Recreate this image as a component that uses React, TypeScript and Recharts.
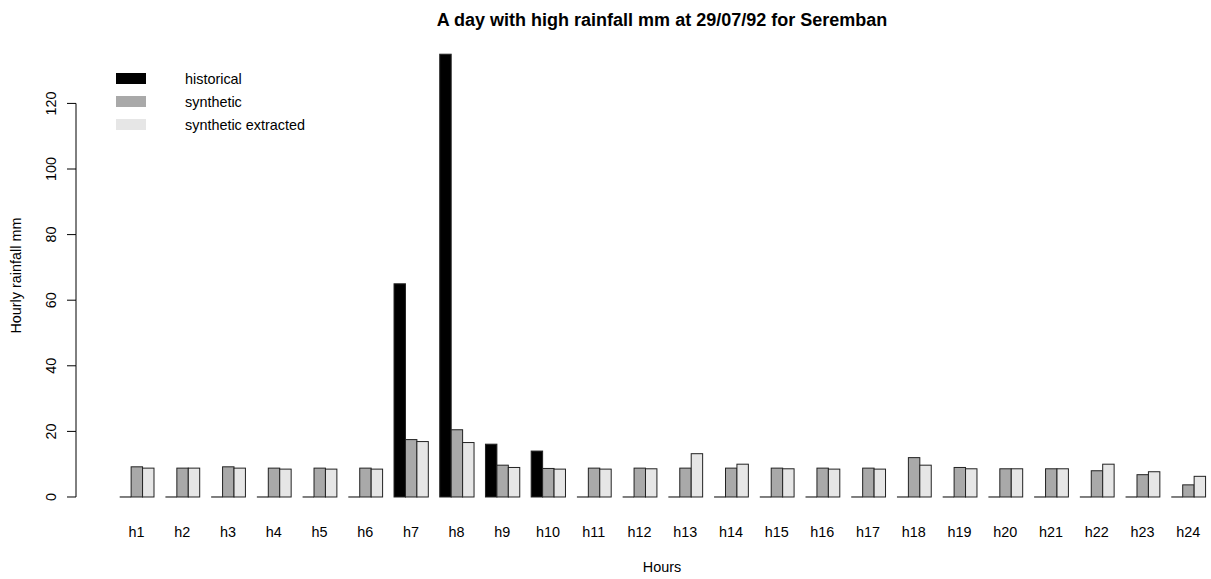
import React from "react";
import { BarChart, Bar, XAxis, YAxis, Legend } from "recharts";

const hours = [
  "h1", "h2", "h3", "h4", "h5", "h6", "h7", "h8", "h9", "h10", "h11", "h12",
  "h13", "h14", "h15", "h16", "h17", "h18", "h19", "h20", "h21", "h22", "h23", "h24",
];
const historical = [0, 0, 0, 0, 0, 0, 65, 135, 16.1, 14, 0, 0, 0, 0, 0, 0, 0, 0, 0, 0, 0, 0, 0, 0];
const synthetic = [
  9.2, 8.8, 9.2, 8.8, 8.8, 8.8, 17.5, 20.5, 9.7, 8.7, 8.8, 8.8,
  8.8, 8.8, 8.8, 8.8, 8.8, 12.0, 9.0, 8.6, 8.6, 8.0, 6.8, 3.7,
];
const extracted = [
  8.8, 8.8, 8.8, 8.5, 8.5, 8.5, 16.9, 16.6, 9.0, 8.5, 8.5, 8.6,
  13.2, 10.0, 8.6, 8.5, 8.5, 9.7, 8.6, 8.6, 8.6, 10.0, 7.7, 6.3,
];
const yTicks = [0, 20, 40, 60, 80, 100, 120];

const data = hours.map((h, i) => ({
  hour: h,
  historical: historical[i],
  synthetic: synthetic[i],
  extracted: extracted[i],
}));

// layout (R barplot look)
const FONT = "'Liberation Sans', Arial, sans-serif";
const CHART_W = 1250;
const CHART_H = 579;
const PLOT_TOP = 36.5;
const PLOT_BOTTOM = 514.7;
const AXIS_X = 76;
const Y_MIN = -5.4;
const Y_MAX = 140.4;
const TICK_STEP_PX = (20 * (PLOT_BOTTOM - PLOT_TOP)) / (Y_MAX - Y_MIN);

const BarShape = (props: any) => {
  const { x, y, width, height, fill } = props;
  if (!height || Math.abs(height) < 0.5) {
    return <line x1={x} x2={x + width} y1={y} y2={y} stroke="#000" strokeWidth={1} />;
  }
  return <rect x={x} y={y} width={width} height={height} fill={fill} stroke="#222" strokeWidth={1} />;
};

const YTick = (props: any) => {
  const { y, payload } = props;
  const last = payload.value === yTicks[yTicks.length - 1];
  return (
    <g>
      <line x1={AXIS_X - 9} x2={AXIS_X} y1={y} y2={y} stroke="#000" />
      {!last && <line x1={AXIS_X} x2={AXIS_X} y1={y} y2={y - TICK_STEP_PX} stroke="#000" />}
      <text
        x={56.5}
        y={y}
        transform={`rotate(-90 56.5 ${y})`}
        textAnchor="middle"
        fontSize={14.4}
        fontFamily={FONT}
        fill="#000"
      >
        {payload.value}
      </text>
    </g>
  );
};

const XTick = (props: any) => {
  const { x, payload } = props;
  return (
    <text x={x} y={536.5} textAnchor="middle" fontSize={14.4} fontFamily={FONT} fill="#000">
      {payload.value}
    </text>
  );
};

const LegendContent = (props: any) => {
  const { payload } = props;
  return (
    <div style={{ fontFamily: FONT, fontSize: 14.4 }}>
      {payload.map((p: any) => (
        <div key={p.value} style={{ display: "flex", alignItems: "center", height: 23 }}>
          <div style={{ width: 30, height: 11, background: p.color, marginRight: 39 }} />
          <span style={{ color: "#000" }}>{p.value}</span>
        </div>
      ))}
    </div>
  );
};

export default function App() {
  return (
    <div style={{ position: "absolute", left: 0, top: 0, width: 1211, height: 579, overflow: "hidden", background: "#fff" }}>
      <BarChart
        width={CHART_W}
        height={CHART_H}
        data={data}
        margin={{ top: PLOT_TOP, right: 1.3, bottom: CHART_H - PLOT_BOTTOM - 50, left: 0 }}
        barGap={0}
        barSize={11.43}
      >
        <XAxis
          dataKey="hour"
          height={50}
          axisLine={false}
          tickLine={false}
          tick={<XTick />}
          interval={0}
          padding={{ left: 37.7, right: 37.7 }}
        />
        <YAxis
          width={AXIS_X}
          domain={[Y_MIN, Y_MAX]}
          ticks={yTicks}
          axisLine={false}
          tickLine={false}
          tick={<YTick />}
          allowDataOverflow
        />
        <Legend
          layout="horizontal"
          verticalAlign="middle"
          align="center"
          wrapperStyle={{ position: "absolute", top: 67, left: 116, width: 250 }}
          content={<LegendContent />}
        />
        <Bar dataKey="historical" name="historical" fill="#000000" shape={<BarShape />} isAnimationActive={false} />
        <Bar dataKey="synthetic" name="synthetic" fill="#A9A9A9" shape={<BarShape />} isAnimationActive={false} />
        <Bar dataKey="extracted" name="synthetic extracted" fill="#E6E6E6" shape={<BarShape />} isAnimationActive={false} />
      </BarChart>
      <svg width={1211} height={579} style={{ position: "absolute", left: 0, top: 0, pointerEvents: "none" }}>
        <text x={662} y={26} textAnchor="middle" fontSize={18} fontWeight="bold" fontFamily={FONT} fill="#000">
          A day with high rainfall mm at 29/07/92 for Seremban
        </text>
        <text x={662} y={572} textAnchor="middle" fontSize={14.4} fontFamily={FONT} fill="#000">
          Hours
        </text>
        <text
          x={21}
          y={275.6}
          transform="rotate(-90 21 275.6)"
          textAnchor="middle"
          fontSize={14.4}
          fontFamily={FONT}
          fill="#000"
        >
          Hourly rainfall mm
        </text>
      </svg>
    </div>
  );
}
